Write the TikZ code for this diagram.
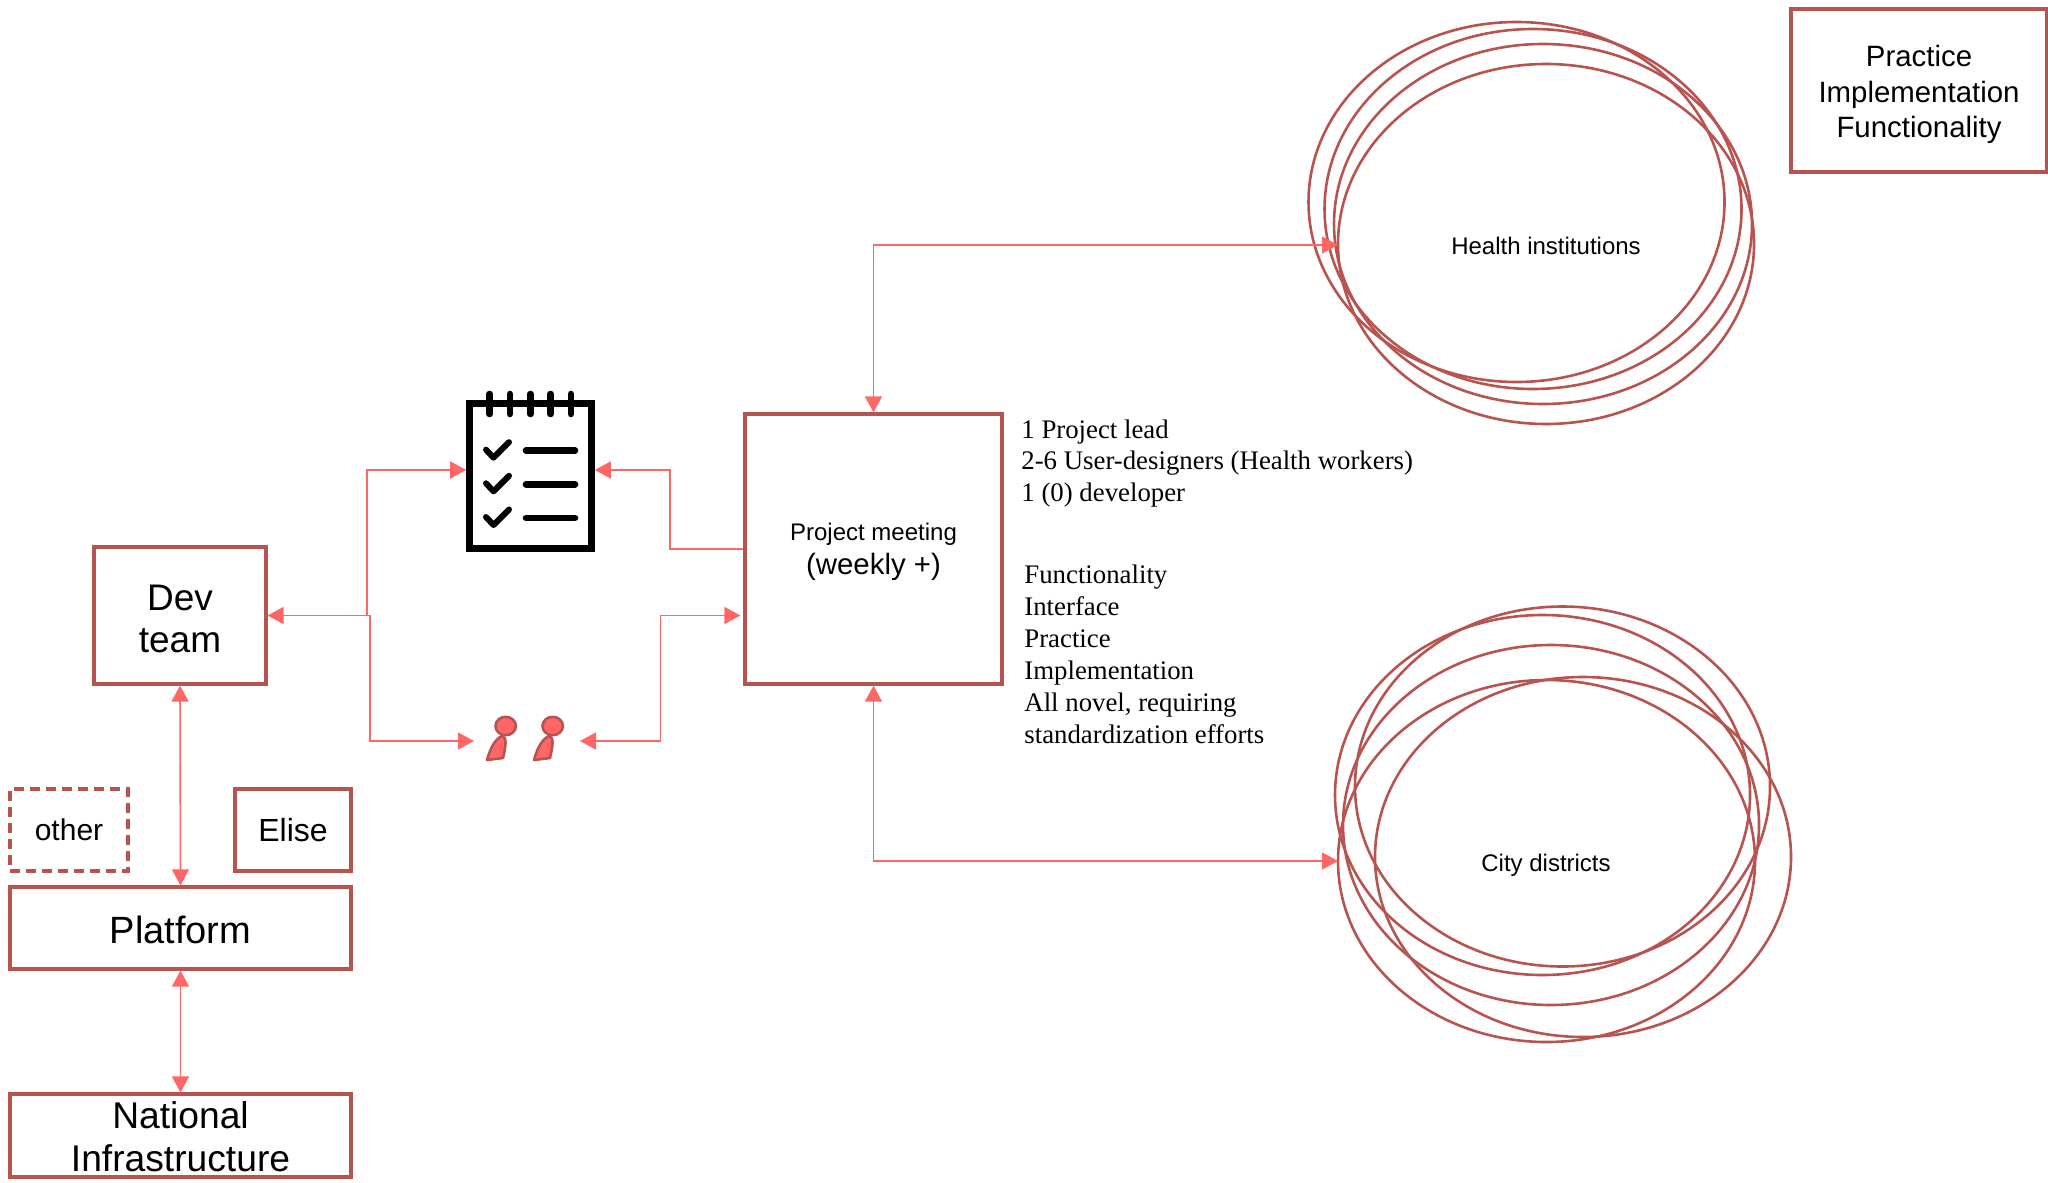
\documentclass[tikz,border=0pt]{standalone}
\usepackage{fontspec}
\setmainfont{Liberation Sans}
\newfontfamily\serifnote{Liberation Serif}
\usetikzlibrary{arrows.meta,shapes.geometric}
\definecolor{boxred}{HTML}{B85450}
\definecolor{linkred}{HTML}{FF6666}
\tikzset{
 x=0.5pt,y=-0.5pt,
 box/.style={draw=boxred,line width=1.6pt,fill=white,inner sep=0pt,align=center,text=black},
 ring/.style={draw=boxred,line width=1.3pt},
 link/.style={draw=linkred,line width=0.8pt,{Triangle[length=8pt,width=8.5pt]}-{Triangle[length=8pt,width=8.5pt]}},
 onelink/.style={draw=linkred,line width=0.8pt,-{Triangle[length=8pt,width=8.5pt]}},
 note/.style={anchor=north west,inner sep=0pt,align=left,font=\serifnote\fontsize{13.4}{16}\selectfont,text=black},
 iconline/.style={draw=black,line width=3.3pt,line cap=round,line join=round},
 person/.style={draw=boxred,fill=linkred,line width=1.3pt,line join=round},
}
\newcommand{\bx}[6]{\node[box,#6,minimum width=#3*0.5pt-#1*0.5pt,minimum height=#4*0.5pt-#2*0.5pt] (#5) at ({(#1+#3)/2},{(#2+#4)/2})}
\newcommand{\dn}[1]{\raisebox{#1}{\vphantom{(}}}
\begin{document}
\begin{tikzpicture}
\useasboundingbox (0,0) rectangle (2048,1182);
\bx{1791}{9}{2047}{172}{pif}{font=\fontsize{14.7}{17.6}\selectfont}{\dn{4pt}Practice\\Implementation\\Functionality};
\bx{745}{414}{1002}{684}{pm}{}{{\fontsize{12}{14}\selectfont\dn{3.2pt}Project meeting}\\[3pt]{\fontsize{14.7}{15}\selectfont (weekly +)}};
\bx{94}{547}{266}{684}{dev}{font=\fontsize{18.5}{21}\selectfont}{\dn{2.6pt}Dev\\team};
\bx{10}{789}{128}{871}{other}{dashed,dash pattern=on 5pt off 3pt,font=\fontsize{15}{18}\selectfont}{\dn{1.4pt}other};
\bx{235}{789}{351}{871}{elise}{font=\fontsize{16}{18}\selectfont}{\dn{1.4pt}Elise};
\bx{10}{887}{351}{969}{plat}{font=\fontsize{19}{21}\selectfont}{\dn{2.6pt}Platform};
\bx{10}{1094}{351}{1177}{nat}{font=\fontsize{18.6}{21.5}\selectfont}{\dn{1.4pt}National\\Infrastructure};
% health rings
\draw[ring] (1516.5,202) ellipse [x radius=208,y radius=180];
\draw[ring] (1533,209) ellipse [x radius=208.5,y radius=180];
\draw[ring] (1543,224) ellipse [x radius=209,y radius=180];
\draw[ring] (1546,244) ellipse [x radius=208,y radius=180];
\node[font=\fontsize{12}{14}\selectfont] (hi) at (1546,246) {Health institutions};
\coordinate (hin) at (1338,245);
% city rings
\draw[ring] (1562.5,786.5) ellipse [x radius=207.5,y radius=180];
\draw[ring] (1542.5,795) ellipse [x radius=207.5,y radius=180];
\draw[ring] (1551,825) ellipse [x radius=208,y radius=180];
\draw[ring] (1546.5,861) ellipse [x radius=208.5,y radius=181];
\draw[ring] (1583,857) ellipse [x radius=208,y radius=180];
\node[font=\fontsize{12}{14}\selectfont] (cd) at (1546,865) {City districts};
\coordinate (cin) at (1338,861);
% notes
\node[note] (n1) at (1021,419) {1 Project lead\\2-6 User-designers (Health workers)\\1 (0) developer};
\node[note] (n2) at (1024,564) {Functionality\\Interface\\Practice\\Implementation\\All novel, requiring\\standardization efforts};
% checklist icon
\node[draw=black,line width=3.3pt,minimum width=61pt,minimum height=72.5pt,inner sep=0pt] (list) at (530.5,476) {};
\foreach \i in {0,1,2,3,4} \draw[iconline] (489.7+\i*20.3,394) -- (489.7+\i*20.3,414);
\foreach \yy in {450.7,484.3,518}{
 \draw[iconline,line width=3pt] (486,\yy-1) -- (493.5,\yy+7) -- (509,\yy-8.5);
 \draw[iconline] (526,\yy) -- (575,\yy);
}
% people icon
\foreach \dx/\nm in {0/pa,47/pb}{
 \node[ellipse,person,minimum width=10.2pt,minimum height=9.2pt,inner sep=0pt] (\nm) at (505.7+\dx,726) {};
 \draw[person] (487+\dx,760) .. controls (491+\dx,745) and (497+\dx,738) .. (502+\dx,736) .. controls (507+\dx,737) and (506+\dx,745) .. (503+\dx,758) -- cycle;
}
\coordinate (pl) at (474,741);
\coordinate (pr) at (580,741);
% waypoints
\coordinate (lk) at (670,470);
\coordinate (mi) at (745,549);
\coordinate (md) at (367,616);
% connectors
\draw[link] (pm.north) |- (hin);
\draw[link] (pm.south) |- (cin);
\draw[link] (dev.south) -- (plat.north);
\draw[link] (plat.south) -- (nat.north);
\draw[onelink] (pm.west |- mi) -| (lk) -- (list.east |- lk);
\draw[link] (dev.east) -- (dev.east -| md) -- (md |- lk) -- (list.west |- lk);
\draw[onelink] (dev.east -| md) -- ++(3,0) |- (pl);
\draw[link,shorten <=1.5pt] (pm.west |- dev.east) -- ++(-83,0) |- (pr);
\end{tikzpicture}
\end{document}
